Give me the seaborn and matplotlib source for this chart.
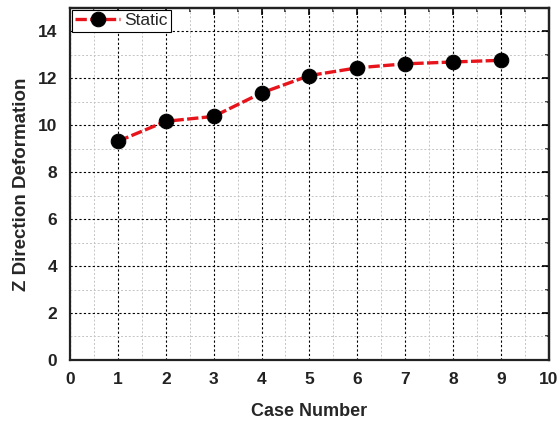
import matplotlib
matplotlib.use("Agg")
import matplotlib.pyplot as plt
import seaborn as sns
import pandas as pd
from matplotlib.ticker import MultipleLocator

case_number = [1, 2, 3, 4, 5, 6, 7, 8, 9]
z_deformation = [9.32, 10.17, 10.38, 11.38, 12.12, 12.45, 12.62, 12.70, 12.77]
series_name = "Static"

sns.set_style("white")
plt.rcParams['font.family'] = ['Liberation Sans', 'DejaVu Sans']

df = pd.DataFrame({"Case Number": case_number, "Z": z_deformation, "series": series_name})

fig = plt.figure(figsize=(5.6, 4.21), dpi=100)
ax = fig.add_axes([0.125, 0.145, 0.855, 0.836])

sns.lineplot(data=df, x="Case Number", y="Z", ax=ax, color="#e8141c", linestyle=(0, (3.4, 1.0)),
             linewidth=2.4, marker="o", markersize=10.5, markerfacecolor="black",
             markeredgecolor="black", label=series_name, zorder=5)

ax.set_xlim(0, 10)
ax.set_ylim(0, 15)
ax.xaxis.set_major_locator(MultipleLocator(1))
ax.xaxis.set_minor_locator(MultipleLocator(0.5))
ax.yaxis.set_major_locator(MultipleLocator(2))
ax.yaxis.set_minor_locator(MultipleLocator(1))

ax.grid(True, which="major", color="black", linestyle=(0, (2, 2)), linewidth=0.8)
ax.grid(True, which="minor", color="#c4c4c4", linestyle=(0, (2, 2)), linewidth=0.7)
ax.set_axisbelow(True)

for s in ax.spines.values():
    s.set_visible(True)
    s.set_color("#222222")
    s.set_linewidth(1.6)

ax.tick_params(axis="both", which="major", direction="out", length=5, width=1.4,
               labelsize=12.5, colors="#222222", pad=4)
ax.tick_params(axis="both", which="minor", direction="out", length=3, width=1.2, colors="#222222")
for lab in ax.get_xticklabels() + ax.get_yticklabels():
    lab.set_fontweight("bold")

axt = ax.secondary_xaxis("top")
axt.set_xticks(range(0, 11))
axt.xaxis.set_minor_locator(MultipleLocator(0.5))
axt.tick_params(which="major", direction="in", length=5, width=1.4, labeltop=False)
axt.tick_params(which="minor", direction="in", length=3, width=1.2)
axt.spines["top"].set_linewidth(1.6)
axr = ax.secondary_yaxis("right")
axr.set_yticks(range(0, 16, 2))
axr.yaxis.set_minor_locator(MultipleLocator(1))
axr.tick_params(which="major", direction="in", length=5, width=1.4, labelright=False)
axr.tick_params(which="minor", direction="in", length=3, width=1.2)
axr.spines["right"].set_linewidth(1.6)

ax.set_xlabel("Case Number", fontsize=13, fontweight="bold", labelpad=11)
ax.set_ylabel("Z Direction Deformation", fontsize=13.5, fontweight="bold", labelpad=6)

leg = ax.legend(loc="upper left", fontsize=12.5, frameon=True, fancybox=False,
                borderaxespad=0.1, handlelength=2.6, borderpad=0.2, handletextpad=0.2)
leg.get_frame().set_edgecolor("black")
leg.get_frame().set_linewidth(0.8)
leg.get_frame().set_alpha(1)

fig.savefig("out.png", dpi=100)
